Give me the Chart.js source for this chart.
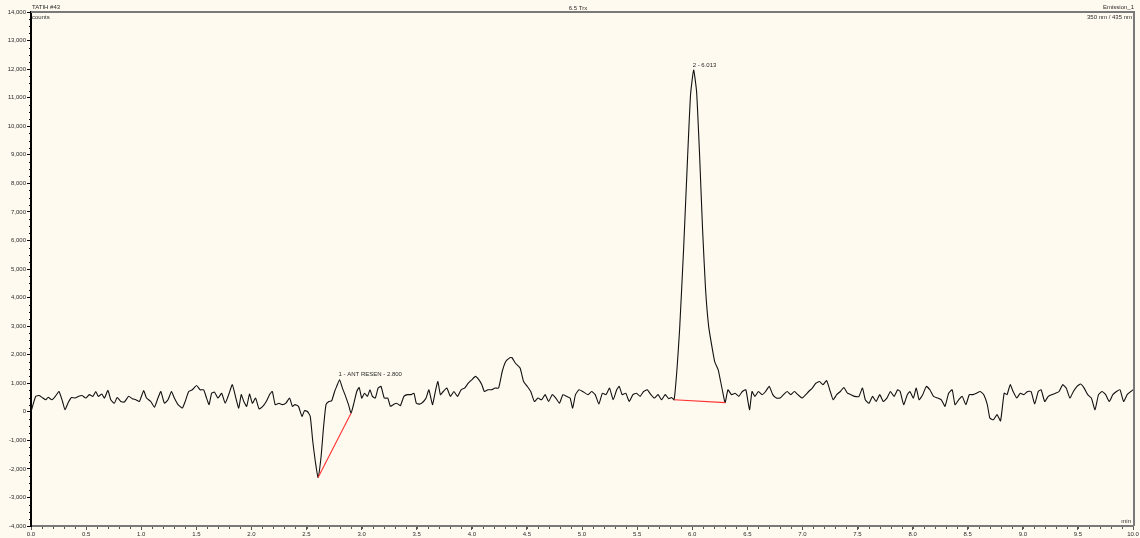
<!DOCTYPE html>
<html>
<head>
<meta charset="utf-8">
<title>TATIH #43 – Emission_1</title>
<script src="https://cdn.jsdelivr.net/npm/chart.js@4.4.1/dist/chart.umd.min.js"></script>
<style>
  html, body { margin: 0; padding: 0; background: #fffaf0; }
  #wrap { width: 1140px; height: 538px; }
</style>
</head>
<body>
<div id="wrap"><canvas id="chrom" width="1140" height="538"></canvas></div>
<script>
// Retention time (min) and detector signal (counts)
const times = [
  0.000, 0.043, 0.075, 0.108, 0.134, 0.156, 0.189, 0.221, 0.254, 0.286, 0.309, 0.335, 0.367, 0.400, 0.432, 0.464,
  0.497, 0.529, 0.562, 0.588, 0.610, 0.643, 0.666, 0.698, 0.724, 0.756, 0.782, 0.815, 0.847, 0.886, 0.919, 0.951,
  0.984, 1.022, 1.048, 1.087, 1.120, 1.152, 1.178, 1.211, 1.243, 1.275, 1.301, 1.334, 1.373, 1.399, 1.431, 1.464,
  1.503, 1.535, 1.567, 1.593, 1.616, 1.639, 1.665, 1.697, 1.730, 1.762, 1.794, 1.827, 1.859, 1.885, 1.908, 1.931,
  1.957, 1.983, 2.009, 2.038, 2.070, 2.103, 2.135, 2.168, 2.190, 2.216, 2.249, 2.281, 2.313, 2.346, 2.372, 2.395,
  2.427, 2.459, 2.482, 2.508, 2.534, 2.557, 2.580, 2.605, 2.631, 2.654, 2.677, 2.703, 2.729, 2.755, 2.774, 2.800,
  2.826, 2.849, 2.881, 2.904, 2.930, 2.956, 2.978, 3.001, 3.027, 3.053, 3.076, 3.098, 3.124, 3.150, 3.176, 3.206,
  3.238, 3.261, 3.287, 3.319, 3.351, 3.384, 3.416, 3.449, 3.475, 3.497, 3.530, 3.562, 3.585, 3.611, 3.643, 3.669,
  3.692, 3.715, 3.741, 3.773, 3.806, 3.838, 3.870, 3.903, 3.935, 3.968, 4.000, 4.033, 4.065, 4.091, 4.114, 4.146,
  4.178, 4.211, 4.243, 4.276, 4.308, 4.341, 4.363, 4.396, 4.438, 4.470, 4.503, 4.535, 4.568, 4.600, 4.633, 4.665,
  4.697, 4.730, 4.762, 4.795, 4.827, 4.860, 4.892, 4.915, 4.941, 4.973, 5.006, 5.055, 5.087, 5.120, 5.153, 5.185,
  5.218, 5.250, 5.283, 5.315, 5.338, 5.364, 5.397, 5.429, 5.462, 5.494, 5.527, 5.559, 5.592, 5.625, 5.657, 5.690,
  5.722, 5.755, 5.787, 5.813, 5.836, 5.862, 5.886, 5.922, 5.958, 5.985, 6.013, 6.040, 6.067, 6.094, 6.121, 6.149,
  6.176, 6.204, 6.236, 6.258, 6.276, 6.299, 6.324, 6.357, 6.389, 6.422, 6.455, 6.487, 6.520, 6.543, 6.569, 6.601,
  6.634, 6.666, 6.699, 6.731, 6.764, 6.797, 6.829, 6.862, 6.894, 6.927, 6.959, 6.998, 7.031, 7.057, 7.090, 7.122,
  7.155, 7.187, 7.220, 7.253, 7.279, 7.311, 7.344, 7.376, 7.409, 7.441, 7.474, 7.513, 7.545, 7.571, 7.604, 7.637,
  7.669, 7.702, 7.734, 7.767, 7.799, 7.832, 7.864, 7.887, 7.919, 7.952, 7.975, 8.007, 8.033, 8.059, 8.092, 8.125,
  8.157, 8.190, 8.229, 8.261, 8.294, 8.327, 8.359, 8.385, 8.418, 8.450, 8.483, 8.515, 8.548, 8.580, 8.613, 8.646,
  8.678, 8.701, 8.733, 8.766, 8.798, 8.831, 8.857, 8.886, 8.912, 8.945, 8.977, 9.010, 9.043, 9.075, 9.108, 9.140,
  9.166, 9.199, 9.231, 9.264, 9.296, 9.329, 9.362, 9.394, 9.427, 9.459, 9.492, 9.524, 9.557, 9.589, 9.622, 9.655,
  9.687, 9.720, 9.752, 9.785, 9.817, 9.850, 9.882, 9.915, 9.947, 9.980, 10.000
];
const signal = [
  0, 540, 570, 480, 420, 510, 420, 540, 710, 360, 70, 300, 500, 480, 540, 570,
  480, 600, 540, 710, 540, 620, 480, 750, 420, 300, 500, 360, 340, 540, 460, 420,
  360, 740, 480, 360, 160, 480, 710, 300, 420, 710, 480, 250, 130, 360, 710, 770,
  920, 770, 770, 480, 250, 650, 690, 480, 650, 300, 600, 950, 480, 130, 600, 360,
  190, 620, 300, 480, 100, 190, 360, 620, 710, 250, 300, 250, 300, 480, 190, 250,
  190, -160, 40, 10, -160, -1040, -1740, -2300, -1620, -570, 250, 360, 390, 710, 890, 1120,
  830, 600, 250, -50, 300, 710, 850, 480, 650, 540, 770, 540, 480, 830, 890, 480,
  480, 190, 250, 300, 210, 540, 600, 600, 650, 300, 270, 360, 480, 770, 250, 710,
  1060, 600, 710, 830, 540, 710, 540, 770, 830, 1000, 1120, 1240, 1120, 950, 710, 770,
  770, 830, 830, 1410, 1760, 1880, 1900, 1700, 1530, 1060, 890, 710, 360, 480, 420, 600,
  360, 600, 480, 300, 600, 540, 480, 130, 600, 770, 710, 600, 710, 600, 270, 650,
  600, 830, 420, 770, 890, 600, 650, 360, 600, 650, 540, 710, 770, 600, 480, 600,
  420, 600, 460, 500, 420, 1500, 2900, 5700, 8900, 11100, 11970, 11200, 9000, 6400, 4300, 3000,
  2350, 1760, 1470, 1060, 710, 320, 770, 600, 650, 540, 710, 770, 70, 710, 540, 710,
  600, 710, 890, 600, 480, 480, 600, 710, 600, 710, 600, 480, 600, 710, 830, 1000,
  1060, 950, 1090, 710, 420, 600, 710, 850, 650, 600, 540, 540, 830, 420, 300, 540,
  360, 600, 360, 480, 710, 540, 770, 710, 250, 600, 710, 480, 830, 420, 600, 890,
  770, 540, 480, 420, 190, 650, 770, 250, 420, 540, 250, 600, 600, 650, 710, 600,
  250, -220, -280, -100, -320, 650, 600, 950, 710, 480, 650, 600, 710, 710, 270, 710,
  770, 360, 540, 600, 650, 710, 950, 830, 480, 710, 890, 970, 830, 600, 480, 70,
  600, 710, 600, 360, 600, 710, 770, 360, 600, 710, 770
];

// Integration baselines of the two detected peaks
const baseline1Times = [2.605, 2.904];
const baseline1Values = [-2300, -50];
const baseline2Times = [5.836, 6.299];
const baseline2Values = [420, 320];

// Peak annotations (placed at the peak apex)
const peakNames = ['1 - ANT RESEN - 2.800', '2 - 6.013'];
const peakTimes = [2.800, 6.013];
const peakValues = [1120, 11970];

// Axis ranges and tick spacing
const xMin = 0, xMax = 10, xMajorStep = 0.5, xMinorStep = 0.1;
const yMin = -4000, yMax = 14000, yMajorStep = 1000, yMinorStep = 250;

const BG = '#fffaf0';
const TEXT = '#2a2a2a';
const FONT = '"Liberation Sans", Arial, sans-serif';

const toPoints = (xs, ys) => xs.map((x, i) => ({ x: x, y: ys[i] }));

const chromPlugin = {
  id: 'chromDecor',
  beforeDraw(chart) {
    const { ctx } = chart;
    ctx.save();
    ctx.fillStyle = BG;
    ctx.fillRect(0, 0, chart.width, chart.height);
    ctx.restore();
  },
  afterDraw(chart) {
    const { ctx, chartArea: a, scales } = chart;
    const xs = scales.x, ys = scales.y;
    ctx.save();

    // frame: top and right edges
    ctx.strokeStyle = '#7a7a7a';
    ctx.lineWidth = 2;
    ctx.beginPath();
    ctx.moveTo(a.left, a.top);
    ctx.lineTo(a.right + 1, a.top);
    ctx.lineTo(a.right + 1, a.bottom);
    ctx.stroke();

    // minor ticks
    ctx.strokeStyle = '#000';
    ctx.lineWidth = 1;
    ctx.beginPath();
    for (let v = yMin; v <= yMax + 1e-6; v += yMinorStep) {
      if (Math.abs(v % yMajorStep) < 1e-6) continue;
      const py = Math.round(ys.getPixelForValue(v)) + 0.5;
      ctx.moveTo(a.left - 2, py);
      ctx.lineTo(a.left, py);
    }
    ctx.stroke();
    ctx.strokeStyle = '#555';
    ctx.beginPath();
    for (let i = 0; i <= Math.round((xMax - xMin) / xMinorStep); i++) {
      const v = xMin + i * xMinorStep;
      const px = Math.round(xs.getPixelForValue(v)) + 0.5;
      ctx.moveTo(px, a.bottom + 1);
      ctx.lineTo(px, a.bottom + 3);
    }
    ctx.stroke();

    // header texts
    ctx.fillStyle = TEXT;
    ctx.font = '6px ' + FONT;
    ctx.textBaseline = 'alphabetic';
    ctx.textAlign = 'left';
    ctx.fillText('TATIH #43', a.left + 1, 9);
    ctx.fillText('counts', a.left + 1, 19);
    ctx.textAlign = 'center';
    ctx.fillText('6.5 Trx', 578, 10);
    ctx.textAlign = 'right';
    ctx.fillText('Emission_1', a.right + 1, 9);
    ctx.fillText('350 nm / 435 nm', a.right - 1, 19);
    ctx.fillText('min', a.right - 2, a.bottom - 3);

    // peak labels
    ctx.textAlign = 'left';
    ctx.textBaseline = 'bottom';
    peakNames.forEach((name, i) => {
      const px = xs.getPixelForValue(peakTimes[i]);
      const py = ys.getPixelForValue(peakValues[i]);
      ctx.fillText(name, px - 1, py - 2);
    });
    ctx.restore();
  }
};

new Chart(document.getElementById('chrom'), {
  type: 'scatter',
  data: {
    datasets: [
      {
        label: 'Emission_1',
        data: toPoints(times, signal),
        showLine: true,
        borderColor: '#111',
        borderWidth: 1.1,
        pointRadius: 0,
        tension: 0.15,
        order: 2
      },
      {
        label: 'Baseline 1',
        data: toPoints(baseline1Times, baseline1Values),
        showLine: true,
        borderColor: '#ff3030',
        borderWidth: 1.1,
        pointRadius: 0,
        order: 1
      },
      {
        label: 'Baseline 2',
        data: toPoints(baseline2Times, baseline2Values),
        showLine: true,
        borderColor: '#ff3030',
        borderWidth: 1.1,
        pointRadius: 0,
        order: 1
      }
    ]
  },
  options: {
    responsive: false,
    devicePixelRatio: 1,
    animation: false,
    layout: { padding: { top: 12, right: 7, left: 0, bottom: 0 } },
    plugins: {
      legend: { display: false },
      tooltip: { enabled: false },
      title: { display: false }
    },
    scales: {
      x: {
        type: 'linear',
        min: xMin,
        max: xMax,
        afterFit(scale) { scale.height = 12; },
        afterBuildTicks(scale) {
          const t = [];
          for (let i = 0; i <= Math.round((xMax - xMin) / xMajorStep); i++) t.push({ value: xMin + i * xMajorStep });
          scale.ticks = t;
        },
        ticks: {
          autoSkip: false,
          maxRotation: 0,
          padding: 1,
          color: TEXT,
          font: { size: 6, family: FONT },
          callback: (v) => Number(v).toFixed(1)
        },
        grid: { drawOnChartArea: false, drawTicks: true, tickLength: 4, color: '#555', lineWidth: 1 },
        border: { display: true, color: '#7a7a7a', width: 2 }
      },
      y: {
        type: 'linear',
        min: yMin,
        max: yMax,
        afterFit(scale) { scale.width = 31; },
        afterBuildTicks(scale) {
          const t = [];
          for (let v = yMin; v <= yMax; v += yMajorStep) t.push({ value: v });
          scale.ticks = t;
        },
        ticks: {
          autoSkip: false,
          padding: 1,
          color: TEXT,
          font: { size: 6, family: FONT },
          callback: (v) => v === 0 ? '0' : Number(v).toLocaleString('en-US')
        },
        grid: { drawOnChartArea: false, drawTicks: true, tickLength: 4, color: '#000', lineWidth: 1 },
        border: { display: true, color: '#000', width: 2 }
      }
    }
  },
  plugins: [chromPlugin]
});
</script>
</body>
</html>
